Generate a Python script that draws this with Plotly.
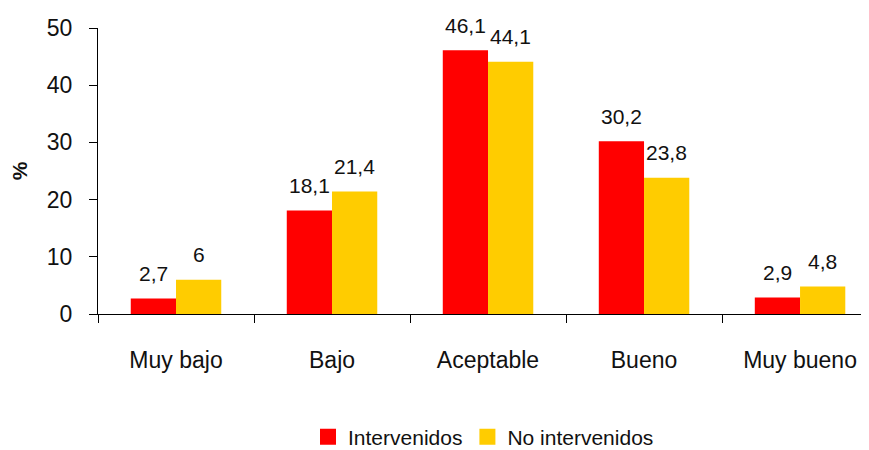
import plotly.graph_objects as go

categories = ["Muy bajo", "Bajo", "Aceptable", "Bueno", "Muy bueno"]
intervenidos = [2.7, 18.1, 46.1, 30.2, 2.9]
no_intervenidos = [6, 21.4, 44.1, 23.8, 4.8]
series_names = ["Intervenidos", "No intervenidos"]
colors = ["#FF0000", "#FFCC00"]
y_ticks = [0, 10, 20, 30, 40, 50]

BARGAP = 0.42
FONT = "Liberation Sans, Arial, sans-serif"

def fmt(v):
    s = ("%g" % v)
    return s.replace(".", ",")

fig = go.Figure()
for name, vals, col in [(series_names[0], intervenidos, colors[0]),
                        (series_names[1], no_intervenidos, colors[1])]:
    fig.add_trace(go.Bar(x=categories, y=vals, name=name, marker_color=col,
                         marker_line_width=0, showlegend=False))
    # legend proxy with larger square symbol
    fig.add_trace(go.Scatter(x=[None], y=[None], mode="markers", name=name,
                             marker=dict(symbol="square", size=16, color=col)))

half = (1 - BARGAP) / 4
annotations = []
for k, vals in enumerate([intervenidos, no_intervenidos]):
    off = -half if k == 0 else half
    for i, v in enumerate(vals):
        annotations.append(dict(x=i + off, y=v, xref="x", yref="y", text=fmt(v),
                                showarrow=False, yanchor="middle", yshift=25,
                                font=dict(family=FONT, size=21, color="#111")))

# page body has an 8px default margin, so the figure is sized to fit the window
fig.update_layout(
    width=861, height=442,
    barmode="group", bargap=BARGAP, bargroupgap=0,
    plot_bgcolor="white", paper_bgcolor="white",
    margin=dict(l=90, r=0, t=20, b=136, autoexpand=False),
    font=dict(family=FONT, color="#111"),
    annotations=annotations,
    legend=dict(orientation="h", x=0.5, xanchor="center", y=-0.43, yanchor="middle",
                font=dict(family=FONT, size=21, color="#111"), itemsizing="trace",
                traceorder="normal"),
    xaxis=dict(range=[-0.5, 4.442], showline=True, linecolor="black", linewidth=1,
               ticks="outside", tickson="boundaries", ticklen=8, tickcolor="black",
               tickfont=dict(family=FONT, size=23, color="#111"), automargin=False,
               ticklabelstandoff=25, showgrid=False, zeroline=False),
    yaxis=dict(range=[0, 50], tickvals=y_ticks, showline=True, linecolor="black",
               linewidth=1, ticks="outside", ticklen=8, tickcolor="black",
               tickfont=dict(family=FONT, size=23, color="#111"), showgrid=False,
               zeroline=False, ticklabelstandoff=12, automargin=False,
               title=dict(text="<b>%</b>", font=dict(family=FONT, size=21, color="#111"),
                          standoff=19)),
)

fig.write_html("out.html")
